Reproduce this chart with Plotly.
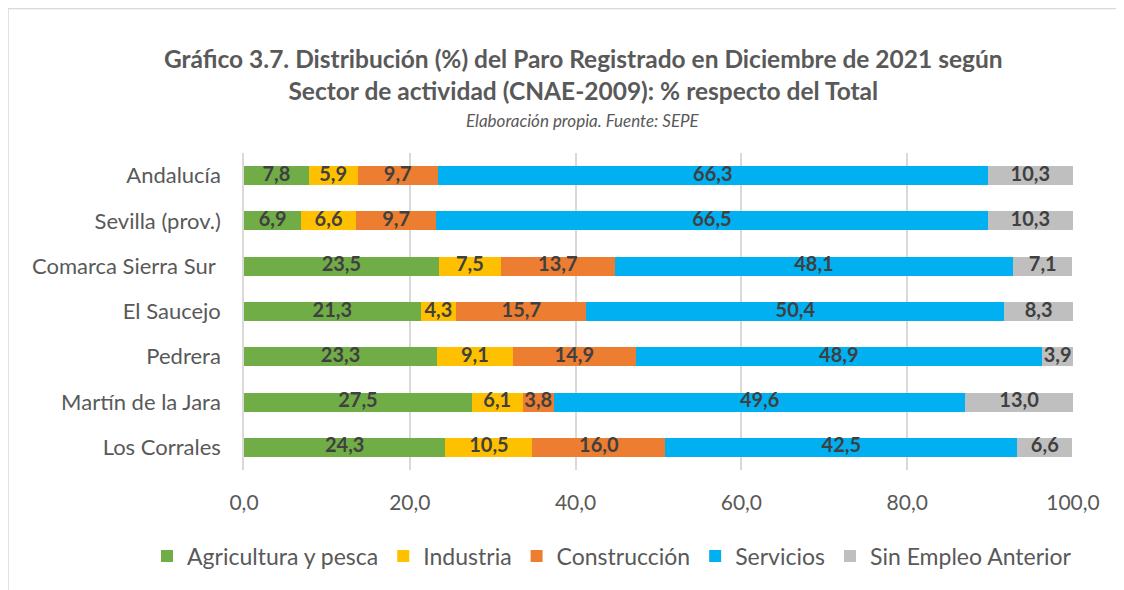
import plotly.graph_objects as go

categories = ["Andalucía", "Sevilla (prov.)", "Comarca Sierra Sur ", "El Saucejo",
              "Pedrera", "Martín de la Jara", "Los Corrales"]
series_names = ["Agricultura y pesca", "Industria", "Construcción", "Servicios", "Sin Empleo Anterior"]
agricultura = [7.8, 6.9, 23.5, 21.3, 23.3, 27.5, 24.3]
industria = [5.9, 6.6, 7.5, 4.3, 9.1, 6.1, 10.5]
construccion = [9.7, 9.7, 13.7, 15.7, 14.9, 3.8, 16.0]
servicios = [66.3, 66.5, 48.1, 50.4, 48.9, 49.6, 42.5]
sin_empleo = [10.3, 10.3, 7.1, 8.3, 3.9, 13.0, 6.6]
colors = ["#70AD47", "#FFC000", "#ED7D31", "#00B0F0", "#BFBFBF"]
tick_vals = [0, 20, 40, 60, 80, 100]
tick_text = ["0,0", "20,0", "40,0", "60,0", "80,0", "100,0"]

FONT = "Lato"
W, H = 1116, 582
ML, MR, MT, MB = 236, 51, 145, 120
plot_w = W - ML - MR
plot_h = H - MT - MB

fig = go.Figure()
all_series = [agricultura, industria, construccion, servicios, sin_empleo]
base = [0.0] * len(categories)
label_x, label_y, label_t = [], [], []
for name, vals, col in zip(series_names, all_series, colors):
    fig.add_trace(go.Bar(
        y=categories, x=vals, name=name, orientation="h",
        marker=dict(color=col, line=dict(width=0)),
        hoverinfo="x+name",
    ))
    for i, v in enumerate(vals):
        label_x.append(base[i] + v / 2)
        label_y.append(categories[i])
        label_t.append(f"{v:.1f}".replace(".", ","))
        base[i] += v

fig.add_trace(go.Scatter(
    x=label_x, y=label_y, text=label_t, mode="text", showlegend=False,
    textposition="middle center", hoverinfo="skip", cliponaxis=False,
    textfont=dict(family=FONT, size=20, color="#404040", weight="bold"),
))

fig.update_layout(
    barmode="stack", bargap=0.58,
    width=W, height=H,
    paper_bgcolor="white", plot_bgcolor="white",
    margin=dict(l=ML, r=MR, t=MT, b=MB, autoexpand=False),
    font=dict(family=FONT, color="#595959"),
    showlegend=True,
    legend=dict(orientation="h", xref="paper", yref="paper",
                x=(139 - ML) / plot_w, xanchor="left", y=-86 / plot_h, yanchor="middle",
                font=dict(size=23, color="#595959"), traceorder="normal",
                itemwidth=30, itemsizing="constant"),
    xaxis=dict(range=[0, 100], tickvals=tick_vals, ticktext=tick_text,
               showgrid=True, gridcolor="#D9D9D9", gridwidth=1.5,
               zeroline=False, showline=False, ticks="",
               tickfont=dict(size=21, color="#595959"), ticklabelstandoff=18),
    yaxis=dict(autorange="reversed", showgrid=False, zeroline=False,
               showline=True, linecolor="#D9D9D9", linewidth=1.5, ticks="",
               tickfont=dict(size=22, color="#595959"), ticklabelstandoff=17),
    annotations=[
        dict(text="<b>Gráfico 3.7. Distribución (%) del Paro Registrado en Diciembre de 2021 según<br>Sector de actividad (CNAE-2009): % respecto del Total</b>",
             x=(575 - ML) / plot_w, y=1 + (MT - 66) / plot_h, xref="paper", yref="paper",
             showarrow=False, yanchor="middle",
             font=dict(size=24.5, color="#595959", family=FONT), align="center"),
        dict(text="<i>Elaboración propia. Fuente: SEPE</i>",
             x=(575 - ML) / plot_w, y=1 + (MT - 112) / plot_h, xref="paper", yref="paper",
             showarrow=False, yanchor="middle",
             font=dict(size=17, color="#595959", family=FONT)),
    ],
)

# outer chart frame
fig.add_shape(type="rect", xref="paper", yref="paper",
              x0=(0 - ML) / plot_w, x1=(W + 20 - ML) / plot_w,
              y0=1 + (MT - (H + 20)) / plot_h, y1=1 + (MT - 0.5) / plot_h,
              line=dict(color="#D9D9D9", width=1.5), layer="below")

fig.write_html("out.html")
